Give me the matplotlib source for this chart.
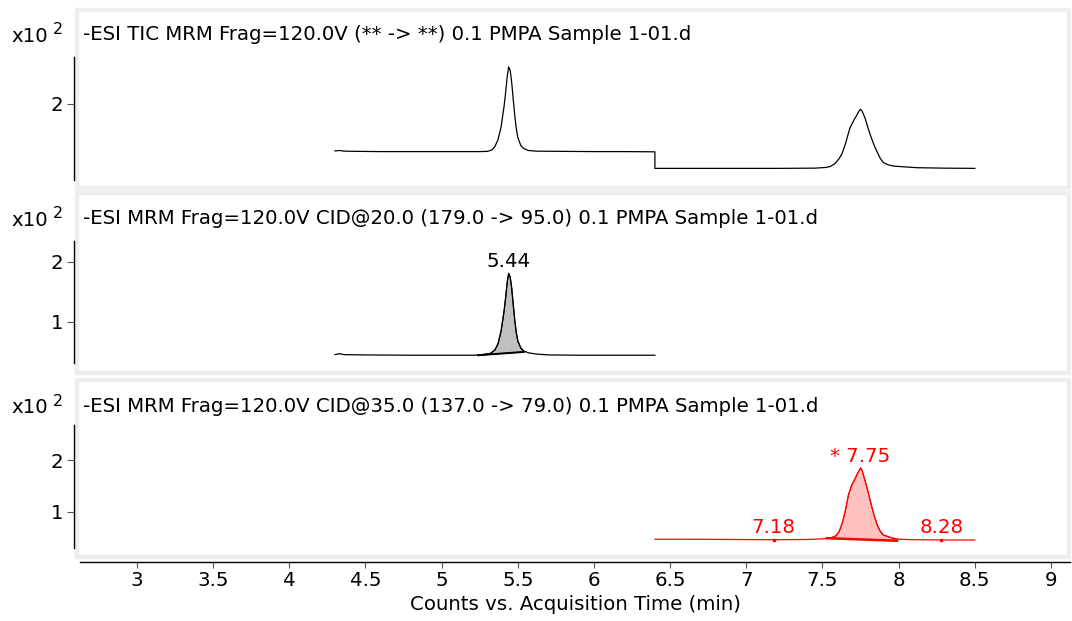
import matplotlib
matplotlib.use("Agg")
import matplotlib.pyplot as plt
from matplotlib.patches import Rectangle

plt.rcParams['font.family'] = ['DejaVu Sans']

# ---- data (time in min, counts x10^2) ----
tic_time = [4.30, 4.33, 4.36, 4.45, 4.60, 4.80, 5.00, 5.15, 5.25, 5.30, 5.33, 5.35,
            5.37, 5.39, 5.41, 5.42, 5.43, 5.44, 5.45, 5.46, 5.47, 5.48, 5.49, 5.50,
            5.52, 5.54, 5.57, 5.62, 5.80, 6.00, 6.20, 6.40, 6.40, 6.45, 6.80, 7.20,
            7.45, 7.52, 7.55, 7.58, 7.61, 7.63, 7.65, 7.67, 7.68, 7.70, 7.72, 7.74,
            7.75, 7.76, 7.78, 7.80, 7.82, 7.84, 7.86, 7.88, 7.90, 7.93, 7.97, 8.12,
            8.30, 8.50]
tic_counts = [0.95, 0.96, 0.945, 0.94, 0.935, 0.935, 0.935, 0.935, 0.935, 0.94, 0.97, 1.05,
              1.20, 1.48, 1.95, 2.25, 2.60, 2.83, 2.75, 2.48, 2.10, 1.75, 1.45, 1.25,
              1.07, 1.00, 0.96, 0.945, 0.94, 0.935, 0.935, 0.93, 0.56, 0.56, 0.56, 0.56,
              0.565, 0.58, 0.60, 0.66, 0.78, 0.90, 1.10, 1.34, 1.46, 1.60, 1.72, 1.84,
              1.88, 1.84, 1.68, 1.45, 1.25, 1.07, 0.92, 0.78, 0.69, 0.64, 0.61, 0.575,
              0.565, 0.56]

mrm1_time = [4.30, 4.33, 4.36, 4.50, 4.80, 5.00, 5.20, 5.26, 5.32, 5.35, 5.37, 5.39,
             5.41, 5.42, 5.43, 5.44, 5.45, 5.46, 5.47, 5.48, 5.49, 5.50, 5.52, 5.54,
             5.57, 5.62, 5.70, 5.90, 6.10, 6.40]
mrm1_counts = [0.45, 0.465, 0.45, 0.445, 0.44, 0.44, 0.44, 0.445, 0.47, 0.53, 0.63, 0.84,
               1.18, 1.40, 1.65, 1.81, 1.75, 1.56, 1.29, 1.03, 0.82, 0.68, 0.56, 0.51,
               0.48, 0.46, 0.445, 0.44, 0.44, 0.44]
mrm1_base_time = [5.24, 5.54]
mrm1_base_counts = [0.44, 0.495]

mrm2_time = [6.40, 6.60, 6.90, 7.18, 7.40, 7.52, 7.56, 7.59, 7.61, 7.63, 7.65, 7.67,
             7.69, 7.71, 7.73, 7.75, 7.76, 7.78, 7.80, 7.82, 7.84, 7.86, 7.88, 7.90,
             7.95, 8.00, 8.10, 8.28, 8.50]
mrm2_counts = [0.47, 0.47, 0.465, 0.46, 0.465, 0.48, 0.50, 0.54, 0.62, 0.78, 1.02, 1.32,
               1.50, 1.62, 1.74, 1.85, 1.80, 1.60, 1.38, 1.14, 0.92, 0.74, 0.62, 0.55,
               0.50, 0.47, 0.46, 0.455, 0.455]
mrm2_base_time = [7.53, 7.99]
mrm2_base_counts = [0.49, 0.44]

titles = ["-ESI TIC MRM Frag=120.0V (** -> **) 0.1 PMPA Sample 1-01.d",
          "-ESI MRM Frag=120.0V CID@20.0 (179.0 -> 95.0) 0.1 PMPA Sample 1-01.d",
          "-ESI MRM Frag=120.0V CID@35.0 (137.0 -> 79.0) 0.1 PMPA Sample 1-01.d"]
x_ticks = [3, 3.5, 4, 4.5, 5, 5.5, 6, 6.5, 7, 7.5, 8, 8.5, 9]

FS = 14.2
W, H = 1072, 621
fig = plt.figure(figsize=(W / 100, H / 100), dpi=100)


def px_rect(x0, y0, x1, y1):
    return [x0 / W, 1 - y1 / H, (x1 - x0) / W, (y1 - y0) / H]


# (axes top, axes bottom, frame top, frame bottom, ylim, yticks)
panels = [(57, 180, 10, 188, (0.30, 3.05), [2]),
          (241, 363, 193, 373, (0.31, 2.35), [1, 2]),
          (425, 548, 380, 557, (0.30, 2.68), [1, 2])]

axes = []
for i, (top, bot, ftop, fbot, ylim, yt) in enumerate(panels):
    ax = fig.add_axes(px_rect(80, top, 1070, bot))
    ax.set_xlim(2.626, 9.125)
    ax.set_ylim(*ylim)
    ax.patch.set_visible(False)
    for s in ['top', 'right', 'bottom']:
        ax.spines[s].set_visible(False)
    ax.spines['left'].set_position(('outward', 4.3))
    ax.spines['left'].set_linewidth(1.0)
    ax.set_yticks(yt)
    ax.tick_params(axis='y', length=5, width=0.8, color='#555555', labelsize=FS, pad=3)
    ax.set_xticks([])
    # grey frame around each panel
    fig.add_artist(Rectangle((77 / W, 1 - fbot / H), (1069 - 77) / W, (fbot - ftop) / H,
                             transform=fig.transFigure, fill=False,
                             edgecolor='#eeeeee', lw=3.2, zorder=0))
    ycen = (ftop + 25) if i == 0 else (ftop + 26)
    fig.text(83 / W, 1 - ycen / H, titles[i], fontsize=FS, va='center', ha='left')
    fig.text(11 / W, 1 - (ycen + 1.5) / H, "x10", fontsize=FS, va='center', ha='left')
    fig.text(53 / W, 1 - (ycen - 5) / H, "2", fontsize=11.5, va='center', ha='left')
    axes.append(ax)

ax1, ax2, ax3 = axes

# TIC
ax1.plot(tic_time, tic_counts, color='black', lw=0.9)

# MRM 179 -> 95
poly_t = [mrm1_base_time[0]] + [t for t in mrm1_time if mrm1_base_time[0] < t < mrm1_base_time[1]] + [mrm1_base_time[1]]
poly_c = [mrm1_base_counts[0]] + [c for t, c in zip(mrm1_time, mrm1_counts) if mrm1_base_time[0] < t < mrm1_base_time[1]] + [mrm1_base_counts[1]]
ax2.fill(poly_t, poly_c, facecolor='#c0c0c0', edgecolor='black', lw=0.8)
ax2.plot(mrm1_time, mrm1_counts, color='black', lw=0.9)
ax2.plot(mrm1_base_time, mrm1_base_counts, color='black', lw=1.4)
ax2.text(5.44, 2.0, "5.44", fontsize=FS, ha='center', va='center')

# MRM 137 -> 79
poly_t = [mrm2_base_time[0]] + [t for t in mrm2_time if mrm2_base_time[0] < t < mrm2_base_time[1]] + [mrm2_base_time[1]]
poly_c = [mrm2_base_counts[0]] + [c for t, c in zip(mrm2_time, mrm2_counts) if mrm2_base_time[0] < t < mrm2_base_time[1]] + [mrm2_base_counts[1]]
ax3.fill(poly_t, poly_c, facecolor='#ffc0c0', edgecolor='red', lw=0.8)
ax3.plot(mrm2_time, mrm2_counts, color='red', lw=0.9)
ax3.plot(mrm2_base_time, mrm2_base_counts, color='red', lw=1.8)
ax3.plot([7.18, 8.28], [0.46, 0.455], ls='none', marker='s', ms=1.8, color='red')
ax3.text(7.745, 2.07, "* 7.75", fontsize=FS, ha='center', va='center', color='red')
ax3.text(7.176, 0.69, "7.18", fontsize=FS, ha='center', va='center', color='red')
ax3.text(8.28, 0.69, "8.28", fontsize=FS, ha='center', va='center', color='red')

# shared x axis on the bottom panel
ax3.spines['bottom'].set_visible(True)
ax3.spines['bottom'].set_position(('outward', 10))
ax3.spines['bottom'].set_linewidth(1.0)
ax3.set_xticks(x_ticks)
ax3.set_xticklabels([f"{t:g}" for t in x_ticks])
ax3.tick_params(axis='x', length=4.5, width=0.8, color='#555555', labelsize=FS, pad=2)
ax3.set_xlabel("Counts vs. Acquisition Time (min)", fontsize=FS, labelpad=4)

fig.savefig("out.png", dpi=100)
